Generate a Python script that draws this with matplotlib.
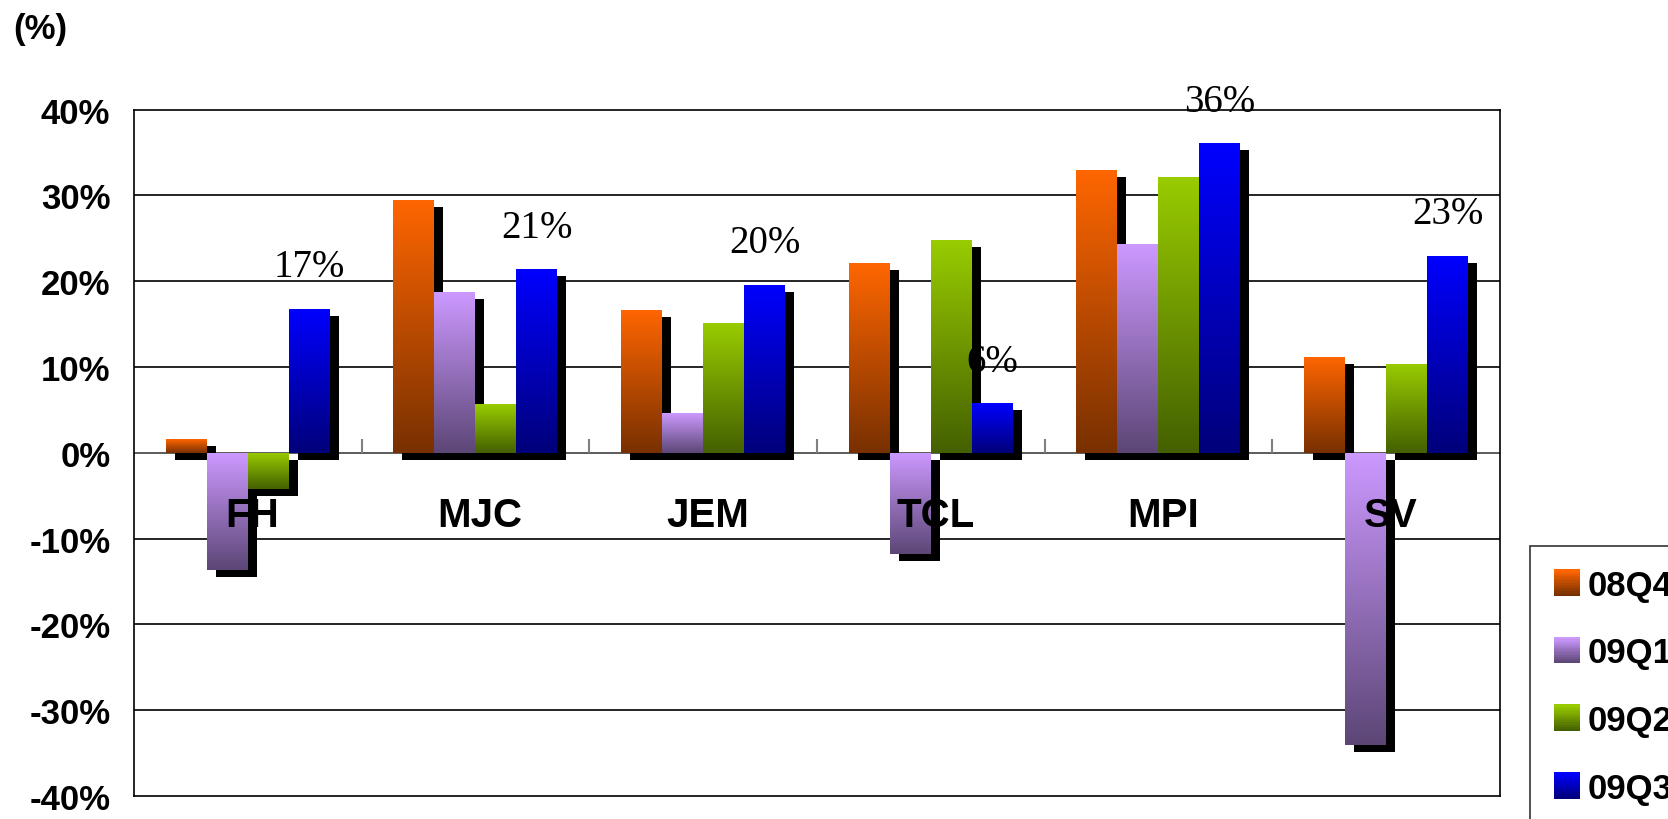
"""Quarterly growth by company, 08Q4-09Q3, shadowed gradient bars."""

import numpy as np
import matplotlib
matplotlib.use("Agg")
import matplotlib.pyplot as plt
import matplotlib.transforms as mtransforms
from matplotlib.colors import LinearSegmentedColormap
from matplotlib.legend_handler import HandlerBase
from matplotlib.patches import Rectangle

companies = ["FH", "MJC", "JEM", "TCL", "MPI", "SV"]
quarters = ["08Q4", "09Q1", "09Q2", "09Q3"]
q08q4 = [1.6, 29.5, 16.7, 22.1, 33.0, 11.2]
q09q1 = [-13.6, 18.7, 4.6, -11.8, 24.3, -34.0]
q09q2 = [-4.2, 5.7, 15.1, 24.8, 32.1, 10.4]
q09q3 = [16.8, 21.4, 19.6, 5.8, 36.1, 23.0]
yticks = [-40, -30, -20, -10, 0, 10, 20, 30, 40]

# light (top) -> dark (bottom)
grad_colors = [("#FF6600", "#783000"),
               ("#CC99FF", "#5C4676"),
               ("#99CC00", "#446000"),
               ("#0000FF", "#00007A")]

SANS = "Liberation Sans"
SERIF = "Liberation Serif"


def make_cmap(top, bottom):
    return LinearSegmentedColormap.from_list("g", [bottom, top])


class GradientHandler(HandlerBase):
    def __init__(self, top, bottom, n=12):
        super().__init__()
        self.top, self.bottom, self.n = top, bottom, n

    def create_artists(self, legend, orig_handle, xdescent, ydescent,
                       width, height, fontsize, trans):
        side = min(width, height) * 0.95
        x0 = xdescent + (width - side) / 2
        y0 = -ydescent + (height - side) / 2
        cmap = make_cmap(self.top, self.bottom)
        arts = []
        for i in range(self.n):
            arts.append(Rectangle((x0, y0 + side * i / self.n), side, side / self.n + 0.3,
                                  facecolor=cmap(i / (self.n - 1)), edgecolor="none",
                                  transform=trans))
        return arts


fig = plt.figure(figsize=(16.68, 8.2), dpi=100)
ax = fig.add_axes([0.0803, 0.028, 0.8189, 0.837])

series = [q08q4, q09q1, q09q2, q09q3]
x = np.arange(len(companies))
width = 0.18
offsets = (np.arange(4) - 1.5) * width

shadow_tr = ax.transData + mtransforms.ScaledTranslation(9 / 100, -7 / 100, fig.dpi_scale_trans)

handles = []
for k, vals in enumerate(series):
    top, bottom = grad_colors[k]
    cmap = make_cmap(top, bottom)
    ax.bar(x + offsets[k], vals, width, color="black", transform=shadow_tr, zorder=2)
    bars = ax.bar(x + offsets[k], vals, width, color=top, zorder=3, label=quarters[k])
    handles.append(bars)
    grad = np.linspace(0, 1, 256).reshape(-1, 1)
    for p in bars.patches:
        x0, x1 = p.get_x(), p.get_x() + p.get_width()
        y0, y1 = sorted([p.get_y(), p.get_y() + p.get_height()])
        im = ax.imshow(grad, cmap=cmap, extent=(x0, x1, y0, y1), origin="lower",
                       aspect="auto", zorder=4, interpolation="bilinear")
        im.set_clip_path(p)

# labels above the 09Q3 bars
for xi, v in zip(x + offsets[3], q09q3):
    ax.text(xi, v + 4.9, f"{v:.0f}%", ha="center", va="center",
            family=SERIF, fontsize=28, zorder=6)

# company names (drawn slightly right of the group centre, as in the original)
name_tr = ax.transData + mtransforms.ScaledTranslation(4.5 / 100, 0, fig.dpi_scale_trans)
for xi, name in zip(x, companies):
    ax.text(xi, -7.3, name, ha="center", va="center", family=SANS,
            fontweight="bold", fontsize=29, zorder=6, transform=name_tr)

ax.set_xlim(-0.5, len(companies) - 0.5)
ax.set_ylim(-40, 40)
ax.set_yticks(yticks)
ax.set_yticklabels([f"{t}%" for t in yticks], family=SANS, fontweight="bold", fontsize=25)
ax.tick_params(axis="y", length=0, pad=17)
ax.set_xticks([])
for t in yticks[1:-1]:
    ax.axhline(t, color="black" if t else "#404040", lw=1.2, zorder=1)
ax.vlines(x[:-1] + 0.5, 0, 1.6, color="#808080", lw=1.5, zorder=1)
for s in ax.spines.values():
    s.set_linewidth(1.2)
    s.set_color("black")

fig.text(13 / 1668, 1 - 30 / 820, "(%)", family=SANS, fontweight="bold",
         fontsize=25, va="center", ha="left")

leg = fig.legend(handles, quarters, loc="upper left",
                 bbox_to_anchor=(1530 / 1668, 1 - 547 / 820),
                 prop={"family": SANS, "weight": "bold", "size": 25},
                 handler_map={h: GradientHandler(*grad_colors[i]) for i, h in enumerate(handles)},
                 frameon=True, fancybox=False, edgecolor="black",
                 handlelength=0.85, handleheight=0.85, handletextpad=0.15,
                 labelspacing=1.0, borderpad=0.65, borderaxespad=0)
leg.get_frame().set_linewidth(1.2)

fig.savefig("out.png", dpi=100)
